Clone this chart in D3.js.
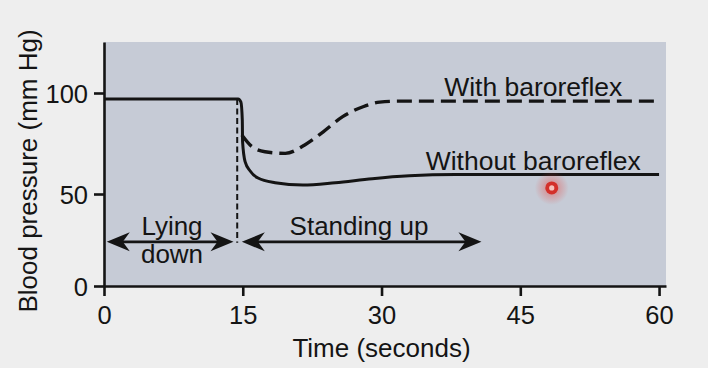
<!DOCTYPE html>
<html>
<head>
<meta charset="utf-8">
<script src="https://cdn.jsdelivr.net/npm/d3@7/dist/d3.min.js"></script>
<style>
  html, body { margin: 0; padding: 0; background: #eeeeee; }
  svg { display: block; }
  text { font-family: "Liberation Sans", Arial, Helvetica, sans-serif; fill: #141414; }
</style>
</head>
<body>
<svg id="chart" width="708" height="368"></svg>
<script>
// ---- data ----
const timeTicks = [0, 15, 30, 45, 60];
const pressureTicks = [0, 50, 100];

// Without baroreflex (solid)
const withoutTime  = [0, 14.5, 14.8, 14.95, 14.98, 15.25, 15.8, 16.65, 18.5, 21.5, 25, 29, 33, 38, 45, 60];
const withoutValue = [97, 97, 95.5, 86.6, 75.9, 66, 61.4, 57.9, 55.6, 54.4, 55.6, 57.6, 59.0, 59.6, 59.6, 59.6];

// With baroreflex (dashed)
const withTime  = [14.9, 16.0, 17.4, 19.6, 21.7, 23.7, 25.8, 28.0, 29.8, 32, 45, 59.8];
const withValue = [79.2, 73.4, 70.9, 70.1, 74.3, 80.8, 88.3, 93.2, 95.5, 96, 96, 96];

const dropTime = 14.4;          // posture change
const lyingRange = [0.3, 14.0];
const standingRange = [14.9, 40.8];
const arrowLevel = 24;

const seriesLabels = ["With baroreflex", "Without baroreflex"];
const seriesLabelPos = [[46.4, 98.5], [46.4, 62]];
const cursorPoint = [48.4, 53];

// ---- layout ----
const svg = d3.select("#chart");
const x = d3.scaleLinear().domain([0, 60.75]).range([104, 666]);
const y = d3.scaleLinear().domain([0, 50, 100, 125]).range([286, 194, 93, 42]);

// plot background
svg.append("rect")
  .attr("x", x(0)).attr("y", y(125))
  .attr("width", x(60.75) - x(0)).attr("height", y(0) - y(125))
  .attr("fill", "#c6cbd6");

// axes
const xAxis = svg.append("g").attr("transform", `translate(0,${y(0)})`)
  .call(d3.axisBottom(x).tickValues(timeTicks).tickSize(10).tickSizeOuter(0).tickPadding(10));
const yAxis = svg.append("g").attr("transform", `translate(${x(0)},0)`)
  .call(d3.axisLeft(y).tickValues(pressureTicks).tickSize(10).tickSizeOuter(0).tickPadding(6));
[xAxis, yAxis].forEach(g => {
  g.select(".domain").attr("stroke", "#141414").attr("stroke-width", 2.6);
  g.selectAll(".tick line").attr("stroke", "#141414").attr("stroke-width", 2.6);
  g.selectAll(".tick text").style("font-size", "25.5px").attr("fill", "#141414");
});
yAxis.selectAll(".tick text").attr("dy", "0.38em");

// axis titles
svg.append("text").attr("x", x(30)).attr("y", 357)
  .attr("text-anchor", "middle").style("font-size", "26px").text("Time (seconds)");
svg.append("text").attr("transform", `translate(37,${171}) rotate(-90)`)
  .attr("text-anchor", "middle").style("font-size", "26px").text("Blood pressure (mm Hg)");

// vertical dashed marker at posture change
svg.append("line")
  .attr("x1", x(dropTime)).attr("x2", x(dropTime))
  .attr("y1", y(97)).attr("y2", y(arrowLevel) + 1)
  .attr("stroke", "#141414").attr("stroke-width", 2).attr("stroke-dasharray", "6,3.5");

// curves
const line = d3.line().x(d => x(d[0])).y(d => y(d[1])).curve(d3.curveMonotoneX);
svg.append("path")
  .datum(withoutTime.map((t, i) => [t, withoutValue[i]]))
  .attr("d", line).attr("fill", "none")
  .attr("stroke", "#141414").attr("stroke-width", 3);
svg.append("path")
  .datum(withTime.map((t, i) => [t, withValue[i]]))
  .attr("d", line).attr("fill", "none")
  .attr("stroke", "#141414").attr("stroke-width", 3.4).attr("stroke-dasharray", "15,7");

// series labels
seriesLabels.forEach((s, i) => {
  svg.append("text").attr("x", x(seriesLabelPos[i][0])).attr("y", y(seriesLabelPos[i][1]))
    .attr("text-anchor", "middle").style("font-size", "26.5px").text(s);
});

// double arrows
function arrowHead(tipX, tipY, dir) {
  const L = 23, H = 9.5, N = 16;
  return `M${tipX},${tipY} L${tipX - dir * L},${tipY - H} L${tipX - dir * N},${tipY} L${tipX - dir * L},${tipY + H} Z`;
}
[lyingRange, standingRange].forEach(r => {
  const x0 = x(r[0]), x1 = x(r[1]), yy = y(arrowLevel);
  svg.append("line").attr("x1", x0 + 10).attr("x2", x1 - 10).attr("y1", yy).attr("y2", yy)
    .attr("stroke", "#141414").attr("stroke-width", 2.6);
  svg.append("path").attr("d", arrowHead(x0, yy, -1)).attr("fill", "#141414");
  svg.append("path").attr("d", arrowHead(x1, yy, 1)).attr("fill", "#141414");
});

// phase labels
svg.append("text").attr("x", 172).attr("y", 235).attr("text-anchor", "middle").style("font-size", "26px").text("Lying");
svg.append("text").attr("x", 172).attr("y", 263).attr("text-anchor", "middle").style("font-size", "26px").text("down");
svg.append("text").attr("x", 359).attr("y", 235).attr("text-anchor", "middle").style("font-size", "26px").text("Standing up");

// cursor marker
const defs = svg.append("defs");
const grad = defs.append("radialGradient").attr("id", "glow");
grad.append("stop").attr("offset", "0%").attr("stop-color", "#e8413a").attr("stop-opacity", 0.55);
grad.append("stop").attr("offset", "100%").attr("stop-color", "#e8413a").attr("stop-opacity", 0);
const cx = x(cursorPoint[0]), cy = y(cursorPoint[1]);
svg.append("circle").attr("cx", cx).attr("cy", cy).attr("r", 17).attr("fill", "url(#glow)");
svg.append("circle").attr("cx", cx).attr("cy", cy).attr("r", 6.5).attr("fill", "#d3302a");
svg.append("circle").attr("cx", cx).attr("cy", cy).attr("r", 2.6).attr("fill", "#f6c2bb");
</script>
</body>
</html>
